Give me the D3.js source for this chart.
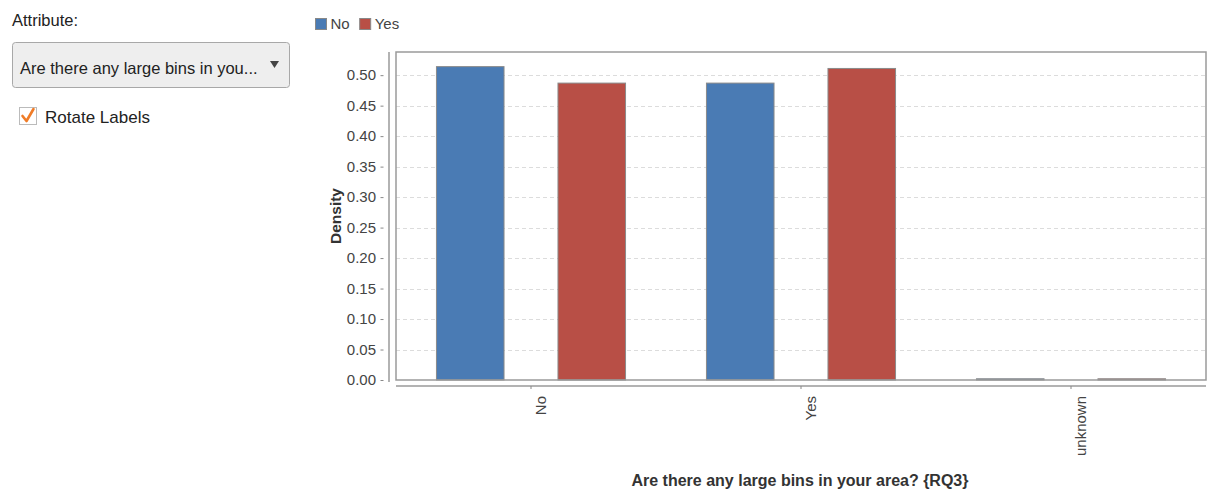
<!DOCTYPE html>
<html>
<head>
<meta charset="utf-8">
<script src="https://cdn.jsdelivr.net/npm/d3@7/dist/d3.min.js"></script>
<style>
  html, body { margin: 0; padding: 0; background: #fff; }
  svg { display: block; font-family: "Liberation Sans", Arial, sans-serif; }
</style>
</head>
<body>
<svg id="chart" width="1209" height="492"></svg>
<script>
// Categories of the chosen attribute and the class values used as series
const categories = ["No", "Yes", "unknown"];
const seriesNames = ["No", "Yes"];
const densityNo = [0.514, 0.487, 0.002];
const densityYes = [0.487, 0.511, 0.002];
const yTicks = [0, 0.05, 0.10, 0.15, 0.20, 0.25, 0.30, 0.35, 0.40, 0.45, 0.50];
const attributeLabel = "Are there any large bins in your area? {RQ3}";
const dropdownText = "Are there any large bins in you...";

const colors = { No: "#4a7bb4", Yes: "#b84f46" };
const seriesValues = { No: densityNo, Yes: densityYes };
const FONT = "'Liberation Sans', Arial, sans-serif";

const svg = d3.select("#chart");

// ---- Side panel: attribute selector and checkbox ----
const panel = svg.append("g");
panel.append("text").attr("x", 12).attr("y", 26)
  .attr("font-size", 16.5).attr("fill", "#222").text("Attribute:");
panel.append("rect").attr("x", 12.5).attr("y", 42.5).attr("width", 277).attr("height", 45)
  .attr("rx", 3).attr("fill", "#eeeeee").attr("stroke", "#a8a8a8");
panel.append("text").attr("x", 20).attr("y", 73.5)
  .attr("font-size", 16.5).attr("fill", "#222").text(dropdownText);
panel.append("path").attr("d", "M270,61 L279,61 L274.5,68 Z").attr("fill", "#444");
panel.append("rect").attr("x", 19.5).attr("y", 107.5).attr("width", 17).attr("height", 17)
  .attr("fill", "#fff").attr("stroke", "#bbb");
panel.append("path").attr("d", "M22.5,116 L26.5,121 L33.5,109")
  .attr("fill", "none").attr("stroke", "#f07c28").attr("stroke-width", 2.6)
  .attr("stroke-linecap", "round").attr("stroke-linejoin", "round");
panel.append("text").attr("x", 45).attr("y", 123)
  .attr("font-size", 17).attr("fill", "#222").text("Rotate Labels");

// ---- Legend ----
const legend = svg.append("g");
let lx = 315.5;
seriesNames.forEach(name => {
  legend.append("rect").attr("x", lx).attr("y", 18.5).attr("width", 11).attr("height", 11)
    .attr("fill", colors[name]).attr("stroke", "#888");
  const t = legend.append("text").attr("x", lx + 15).attr("y", 29)
    .attr("font-size", 15).attr("fill", "#444").text(name);
  lx += 15 + t.node().getComputedTextLength() + 10;
});

// ---- Plot area ----
const plot = { left: 396, right: 1206, top: 52, bottom: 380 };

const x = d3.scaleBand().domain(categories)
  .range([plot.left, plot.right]).paddingInner(0).paddingOuter(0);
const xSub = d3.scaleBand().domain(seriesNames)
  .range([0, x.bandwidth()]).paddingInner(0.444).paddingOuter(0.333);
const y = d3.scaleLinear().domain([0, 0.538]).range([plot.bottom, plot.top]);

// gridlines
svg.append("g").selectAll("line").data(yTicks.slice(1)).join("line")
  .attr("x1", plot.left).attr("x2", plot.right)
  .attr("y1", d => Math.round(y(d)) + 0.5).attr("y2", d => Math.round(y(d)) + 0.5)
  .attr("stroke", "#dcdcdc").attr("stroke-dasharray", "4,3");

// bars
const bars = svg.append("g");
seriesNames.forEach(name => {
  bars.selectAll(null).data(categories.map((c, i) => ({ c, v: seriesValues[name][i] })))
    .join("rect")
    .attr("x", d => x(d.c) + xSub(name))
    .attr("width", xSub.bandwidth())
    .attr("y", d => y(d.v))
    .attr("height", d => y(0) - y(d.v))
    .attr("fill", colors[name])
    .attr("stroke", "#8a8a8a").attr("stroke-width", 1);
});

// plot frame
svg.append("rect").attr("x", plot.left).attr("y", plot.top)
  .attr("width", plot.right - plot.left).attr("height", plot.bottom - plot.top)
  .attr("fill", "none").attr("stroke", "#9a9a9a").attr("stroke-width", 1.5);

// y axis, offset to the left of the frame; tick marks sit a little away from the line
const yAxisG = svg.append("g").attr("transform", `translate(${plot.left - 7},0)`)
  .call(d3.axisLeft(y).tickValues(yTicks).tickFormat(d3.format(".2f")).tickSize(0).tickPadding(13));
yAxisG.select(".domain").attr("d", `M0,${plot.top}V${plot.bottom + 2}`)
  .attr("stroke", "#9a9a9a").attr("stroke-width", 1.5);
yAxisG.selectAll(".tick line").attr("x1", -8.5).attr("x2", -5.5).attr("stroke", "#888");
yAxisG.selectAll(".tick text").attr("font-size", 15).attr("fill", "#444")
  .attr("font-family", FONT);

// x axis, offset below the frame
const xAxisG = svg.append("g").attr("transform", `translate(0,${plot.bottom + 6})`)
  .call(d3.axisBottom(x).tickSize(3).tickSizeOuter(0));
xAxisG.select(".domain").attr("d", `M${plot.left},0H${plot.right}`)
  .attr("stroke", "#9a9a9a").attr("stroke-width", 1.5);
xAxisG.selectAll(".tick line").attr("stroke", "#888");
xAxisG.selectAll(".tick text")
  .attr("font-size", 15).attr("fill", "#444")
  .attr("font-family", FONT)
  .attr("text-anchor", "end")
  .attr("transform", "rotate(-90)")
  .attr("x", -10).attr("y", 0).attr("dy", "1em");

// axis titles
svg.append("text")
  .attr("transform", `translate(341,${(plot.top + plot.bottom) / 2}) rotate(-90)`)
  .attr("text-anchor", "middle").attr("font-size", 15.5).attr("font-weight", "bold")
  .attr("fill", "#333").text("Density");
svg.append("text").attr("x", 800).attr("y", 486)
  .attr("text-anchor", "middle").attr("font-size", 16).attr("font-weight", "bold")
  .attr("fill", "#333").text(attributeLabel);
</script>
</body>
</html>
